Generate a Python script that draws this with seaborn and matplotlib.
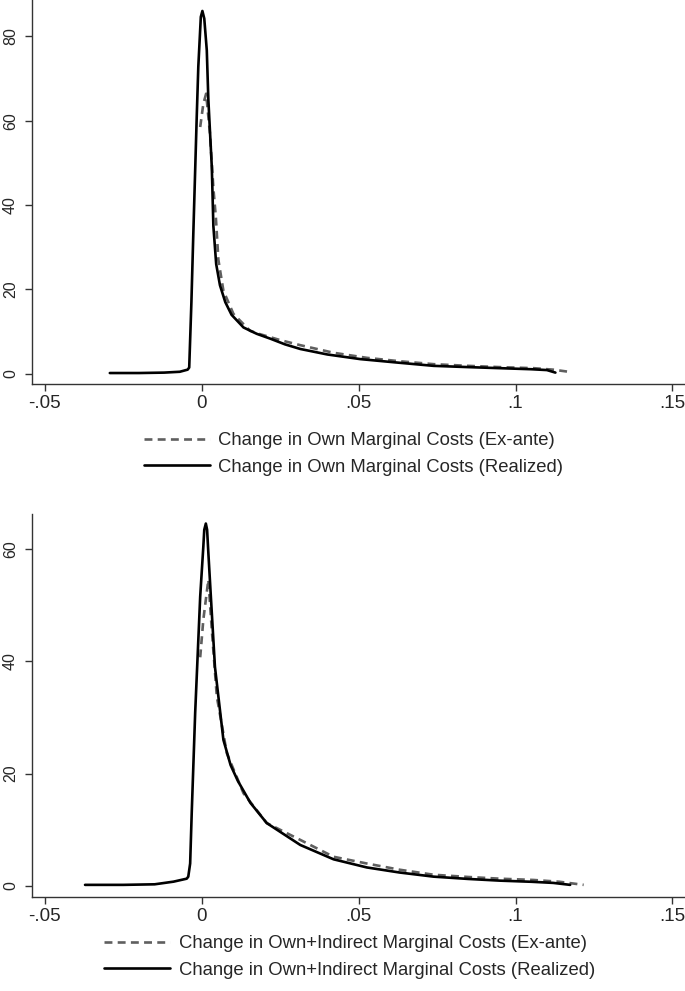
import numpy as np
import pandas as pd
import matplotlib
matplotlib.use("Agg")
import matplotlib.pyplot as plt
import seaborn as sns

# ----- data -----
# top panel: own marginal costs
own_real_x = [-0.0293, -0.02, -0.012, -0.007, -0.0045, -0.004, -0.0033, -0.0027, -0.0016,
              -0.0011, -0.0003, 0.0002, 0.0008, 0.0016, 0.0021, 0.0032, 0.0037, 0.0046,
              0.0058, 0.0075, 0.0095, 0.0133, 0.0175, 0.022, 0.0265, 0.0314, 0.04, 0.0505,
              0.062, 0.0739, 0.085, 0.095, 0.105, 0.110, 0.1127]
own_real_y = [0.2, 0.2, 0.3, 0.5, 1.0, 1.5, 17, 33, 61, 72.8, 84.6, 86, 84.2, 76.7, 65,
              49, 35, 26, 21, 17, 14, 11, 9.5, 8.3, 7.0, 5.9, 4.6, 3.5, 2.7, 1.9, 1.6,
              1.35, 1.1, 0.9, 0.3]
own_exa_x = [-0.0005, 0.0005, 0.0014, 0.0026, 0.0037, 0.0045, 0.0053, 0.0069, 0.0101,
             0.0154, 0.0186, 0.025, 0.0314, 0.042, 0.0526, 0.063, 0.0739, 0.085, 0.095,
             0.1058, 0.112, 0.1164]
own_exa_y = [58.5, 64, 66.4, 57, 44, 37, 27, 19.7, 14.2, 10.2, 9.4, 8.0, 6.8, 5.0, 3.8,
             3.0, 2.3, 1.9, 1.6, 1.35, 1.0, 0.55]

# bottom panel: own + indirect marginal costs
ind_real_x = [-0.0372, -0.025, -0.015, -0.009, -0.0048, -0.0043, -0.0037, -0.0032, -0.0021,
              -0.0005, 0.0005, 0.0008, 0.0013, 0.0017, 0.0021, 0.0029, 0.0042, 0.0069,
              0.0092, 0.0115, 0.0155, 0.0207, 0.0314, 0.042, 0.0526, 0.063, 0.0739, 0.085,
              0.095, 0.105, 0.112, 0.1174]
ind_real_y = [0.2, 0.2, 0.3, 0.77, 1.3, 1.66, 4.0, 13, 30.8, 51.5, 60.4, 63.4, 64.5, 63.4,
              59.3, 51.5, 39, 26, 21.5, 18.7, 14.8, 11.2, 7.3, 4.75, 3.3, 2.4, 1.66, 1.25,
              0.95, 0.75, 0.55, 0.2]
ind_exa_x = [-0.0005, 0.0005, 0.0021, 0.0032, 0.0048, 0.008, 0.0133, 0.0207, 0.0314,
             0.042, 0.0526, 0.063, 0.0739, 0.085, 0.095, 0.1058, 0.114, 0.1217]
ind_exa_y = [40.7, 47.4, 54.5, 45.6, 33.7, 23.6, 16.5, 11.2, 8.2, 5.2, 4.0, 2.9, 2.0, 1.6,
             1.3, 1.07, 0.75, 0.2]

xticks = [-0.05, 0, 0.05, 0.1, 0.15]
xticklabels = ["-.05", "0", ".05", ".1", ".15"]
top_yticks = [0, 20, 40, 60, 80]
bot_yticks = [0, 20, 40, 60]

top_labels = ["Change in Own Marginal Costs (Ex-ante)",
              "Change in Own Marginal Costs (Realized)"]
bot_labels = ["Change in Own+Indirect Marginal Costs (Ex-ante)",
              "Change in Own+Indirect Marginal Costs (Realized)"]

sns.set_style("ticks")
plt.rcParams["font.family"] = ["Liberation Sans", "DejaVu Sans"]

fig = plt.figure(figsize=(6.85, 9.91), dpi=100)
ax1 = fig.add_axes([32 / 685, 1 - 384 / 991, 653 / 685, 384 / 991])
ax2 = fig.add_axes([32 / 685, 1 - 897 / 991, 653 / 685, 383 / 991])

dash_col = "#5f5f5f"
spine_col = "#333333"


def draw(ax, ex_x, ex_y, re_x, re_y, labels, yticks, ylim, leg_center):
    sns.lineplot(x=ex_x, y=ex_y, ax=ax, color=dash_col, lw=1.9,
                 linestyle=(0, (3, 2)), label=labels[0])
    sns.lineplot(x=re_x, y=re_y, ax=ax, color="black", lw=1.9, label=labels[1])
    ax.set_xlim(-0.0541, 0.154)
    ax.set_ylim(*ylim)
    ax.set_xticks(xticks)
    ax.set_xticklabels(xticklabels)
    ax.set_yticks(yticks)
    ax.set_yticklabels([str(t) for t in yticks], rotation=90, va="center")
    ax.tick_params(axis="x", labelsize=13.5, length=5, width=1, color=spine_col, pad=3)
    ax.tick_params(axis="y", labelsize=11.5, length=5, width=1, color=spine_col, pad=5)
    sns.despine(ax=ax)
    for s in ["left", "bottom"]:
        ax.spines[s].set_linewidth(1)
        ax.spines[s].set_color(spine_col)
    h, l = ax.get_legend_handles_labels()
    ax.get_legend().remove()
    fig.legend(h, l, loc="center", bbox_to_anchor=leg_center, frameon=False,
               fontsize=13.3, handlelength=3.6, handletextpad=0.45, labelspacing=0.5)


draw(ax1, own_exa_x, own_exa_y, own_real_x, own_real_y, top_labels, top_yticks,
     (-2.4, 88.6), (353.5 / 685, 1 - 454 / 991))
draw(ax2, ind_exa_x, ind_exa_y, ind_real_x, ind_real_y, bot_labels, bot_yticks,
     (-1.96, 66.2), (349.5 / 685, 1 - 957 / 991))

fig.savefig("out.png", dpi=100)
